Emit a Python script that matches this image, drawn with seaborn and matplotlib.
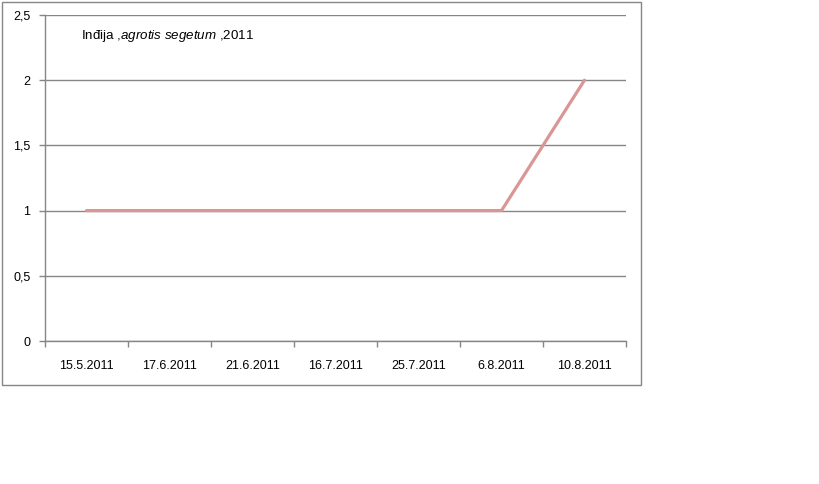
import matplotlib
matplotlib.use('Agg')
import matplotlib.pyplot as plt
import seaborn as sns
import pandas as pd
from matplotlib.patches import Rectangle

sns.set_theme(style='white')
plt.rcParams['font.family'] = ['Liberation Sans', 'DejaVu Sans']
plt.rcParams['mathtext.fontset'] = 'custom'
plt.rcParams['mathtext.it'] = 'Liberation Sans:italic'
plt.rcParams['mathtext.rm'] = 'Liberation Sans'

# podaci
dates = ['15.5.2011', '17.6.2011', '21.6.2011', '16.7.2011', '25.7.2011', '6.8.2011', '10.8.2011']
values = [1, 1, 1, 1, 1, 1, 2]
y_ticks = [0, 0.5, 1, 1.5, 2, 2.5]
y_labels = ['0', '0,5', '1', '1,5', '2', '2,5']

df = pd.DataFrame({'datum': dates, 'broj': values})

grid_c = '#868686'
line_c = '#D99694'

fig = plt.figure(figsize=(8.19, 4.84), dpi=100)
ax = fig.add_axes([45 / 819, 1 - 341 / 484, (626 - 45) / 819, (341 - 15) / 484])

sns.lineplot(data=df, x='datum', y='broj', ax=ax, color=line_c, linewidth=2.3, sort=False)

ax.set_xlim(-0.5, len(dates) - 0.5)
ax.set_ylim(0, 2.5)
ax.set_yticks(y_ticks)
ax.set_yticklabels(y_labels)
ax.set_xticks(range(len(dates)))
ax.set_xticklabels(dates)
ax.set_xticks([i - 0.5 for i in range(len(dates) + 1)], minor=True)
ax.set_xlabel('')
ax.set_ylabel('')

ax.yaxis.grid(True, color=grid_c, linewidth=1)
ax.set_axisbelow(True)
for s in ['top', 'right']:
    ax.spines[s].set_visible(False)
for s in ['left', 'bottom']:
    ax.spines[s].set_color(grid_c)
    ax.spines[s].set_linewidth(1)

ax.tick_params(axis='x', which='major', length=0, pad=14, labelsize=9, labelcolor='black')
ax.tick_params(axis='x', which='minor', length=4, color=grid_c, width=1, direction='out', bottom=True)
ax.tick_params(axis='y', length=4, color=grid_c, width=1, direction='out', pad=6.5, labelsize=9,
               labelcolor='black', left=True)

# naslov u grafikonu
ax.text(0.062, 0.935, r'Inđija ,$\it{agrotis\ segetum}$ ,2011', transform=ax.transAxes,
        fontsize=9.6, va='center', ha='left', color='black')

# okvir grafikona
fig.patches.append(Rectangle((1.5 / 819, 1 - 385 / 484), (641 - 1.5) / 819, (385 - 1.5) / 484,
                             transform=fig.transFigure, fill=False, edgecolor=grid_c, linewidth=1))

fig.savefig('out.png', dpi=100)
